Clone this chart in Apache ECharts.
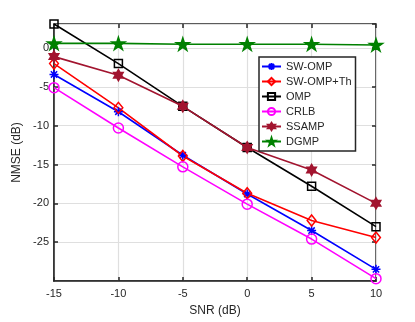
<!DOCTYPE html>
<html>
<head>
<meta charset="utf-8">
<script src="https://cdn.jsdelivr.net/npm/echarts@6/dist/echarts.min.js"></script>
<style>
  html, body { margin: 0; padding: 0; background: #fff; }
  #chart { width: 415px; height: 322px; }
</style>
</head>
<body>
<div id="chart"></div>
<script>
// SNR points (dB)
var snr = [-15, -10, -5, 0, 5, 10];

// NMSE (dB) per method
var swOmp   = [-3.4, -8.2, -13.8, -18.8, -23.5, -28.5];
var swOmpTh = [-2.0, -7.7, -13.9, -18.7, -22.2, -24.4];
var omp     = [3.1, -2.0, -7.5, -12.8, -17.8, -23.0];
var crlb    = [-5.1, -10.3, -15.3, -20.1, -24.6, -29.7];
var ssamp   = [-1.1, -3.5, -7.5, -12.8, -15.7, -20.0];
var dgmp    = [0.6, 0.6, 0.5, 0.5, 0.5, 0.4];

var yTicks = [0, -5, -10, -15, -20, -25];

// marker shapes (matlab-like)
var asterisk = 'path://M0,-1L0,1M-1,0L1,0M-0.7,-0.7L0.7,0.7M-0.7,0.7L0.7,-0.7';
var diamond = 'path://M0,-1L0.8,0L0,1L-0.8,0Z';
var square = 'path://M-1,-1L1,-1L1,1L-1,1Z';
var hexagram = 'path://M0,-1L0.2887,-0.5L0.866,-0.5L0.577,0L0.866,0.5L0.2887,0.5L0,1L-0.2887,0.5L-0.866,0.5L-0.577,0L-0.866,-0.5L-0.2887,-0.5Z';
var pentagram = 'path://M0,-1L0.2245,-0.309L0.951,-0.309L0.363,0.118L0.588,0.809L0,0.382L-0.588,0.809L-0.363,0.118L-0.951,-0.309L-0.2245,-0.309Z';

function pairs(vals) {
  return snr.map(function (x, i) { return [x, vals[i]]; });
}

function mkSeries(name, vals, color, symbol, size, filled) {
  return {
    name: name,
    type: 'line',
    data: pairs(vals),
    symbol: symbol,
    symbolSize: size,
    symbolKeepAspect: true,
    showAllSymbol: true,
    lineStyle: { color: color, width: 1.6 },
    itemStyle: {
      color: filled ? color : 'rgba(0,0,0,0)',
      borderColor: color,
      borderWidth: 1.5
    },
    emphasis: { disabled: true },
    animation: false,
    z: 3
  };
}

var axisColor = '#262626';
var gridColor = '#dfdfdf';
var font = 'Liberation Sans, Arial, sans-serif';

var myChart = echarts.init(document.getElementById('chart'));
var option = {
  backgroundColor: '#fff',
  animation: false,
  grid: {
    left: 54, right: 39, top: 24, bottom: 39,
    show: true, borderColor: axisColor, borderWidth: 1.5
  },
  legend: {
    left: 259, top: 57,
    orient: 'vertical',
    itemWidth: 19, itemHeight: 9, itemGap: 4,
    padding: [4, 4, 4, 2],
    borderColor: axisColor, borderWidth: 1.5,
    backgroundColor: '#fff',
    textStyle: { color: axisColor, fontSize: 11, fontFamily: font, lineHeight: 11 },
    data: ['SW-OMP', 'SW-OMP+Th', 'OMP', 'CRLB', 'SSAMP', 'DGMP']
  },
  xAxis: [{
    type: 'value', min: -15, max: 10, interval: 5,
    name: 'SNR (dB)', nameLocation: 'middle', nameGap: 24,
    nameTextStyle: { color: axisColor, fontSize: 12, fontFamily: font },
    axisLine: { onZero: false, lineStyle: { color: axisColor, width: 1.5 } },
    axisTick: { inside: true, length: 4, lineStyle: { color: axisColor, width: 1.5 } },
    axisLabel: { color: axisColor, fontSize: 11, fontFamily: font, margin: 7 },
    splitLine: { show: true, lineStyle: { color: gridColor, width: 1.2 } }
  }, {
    type: 'value', min: -15, max: 10, interval: 5, position: 'top',
    axisLine: { show: false, onZero: false },
    axisTick: { inside: true, length: 4, lineStyle: { color: axisColor, width: 1.5 } },
    axisLabel: { show: false },
    splitLine: { show: false }
  }],
  yAxis: [{
    type: 'value', min: -30, max: 3.1, interval: 5,
    name: 'NMSE (dB)', nameLocation: 'middle', nameGap: 26,
    nameTextStyle: { color: axisColor, fontSize: 12, fontFamily: font },
    axisLine: { show: true, onZero: false, lineStyle: { color: axisColor, width: 1.5 } },
    axisTick: { inside: true, length: 4, lineStyle: { color: axisColor, width: 1.5 } },
    axisLabel: {
      color: axisColor, fontSize: 11, fontFamily: font, margin: 5,
      showMinLabel: false, showMaxLabel: false,
      formatter: function (v) { return yTicks.indexOf(v) >= 0 ? String(v) : ''; }
    },
    splitLine: { show: true, lineStyle: { color: gridColor, width: 1.2 } }
  }, {
    type: 'value', min: -30, max: 3.1, interval: 5, position: 'right',
    axisLine: { show: false, onZero: false },
    axisTick: { inside: true, length: 4, lineStyle: { color: axisColor, width: 1.5 } },
    axisLabel: { show: false },
    splitLine: { show: false }
  }],
  series: [
    mkSeries('SW-OMP', swOmp, '#0000ff', asterisk, 9, false),
    mkSeries('SW-OMP+Th', swOmpTh, '#ff0000', diamond, 11, false),
    mkSeries('OMP', omp, '#000000', square, 8, false),
    mkSeries('CRLB', crlb, '#ff00ff', 'circle', 10, false),
    mkSeries('SSAMP', ssamp, '#a2142f', hexagram, 11, true),
    mkSeries('DGMP', dgmp, '#008000', pentagram, 13, true)
  ]
};

option && myChart.setOption(option);
</script>
</body>
</html>
